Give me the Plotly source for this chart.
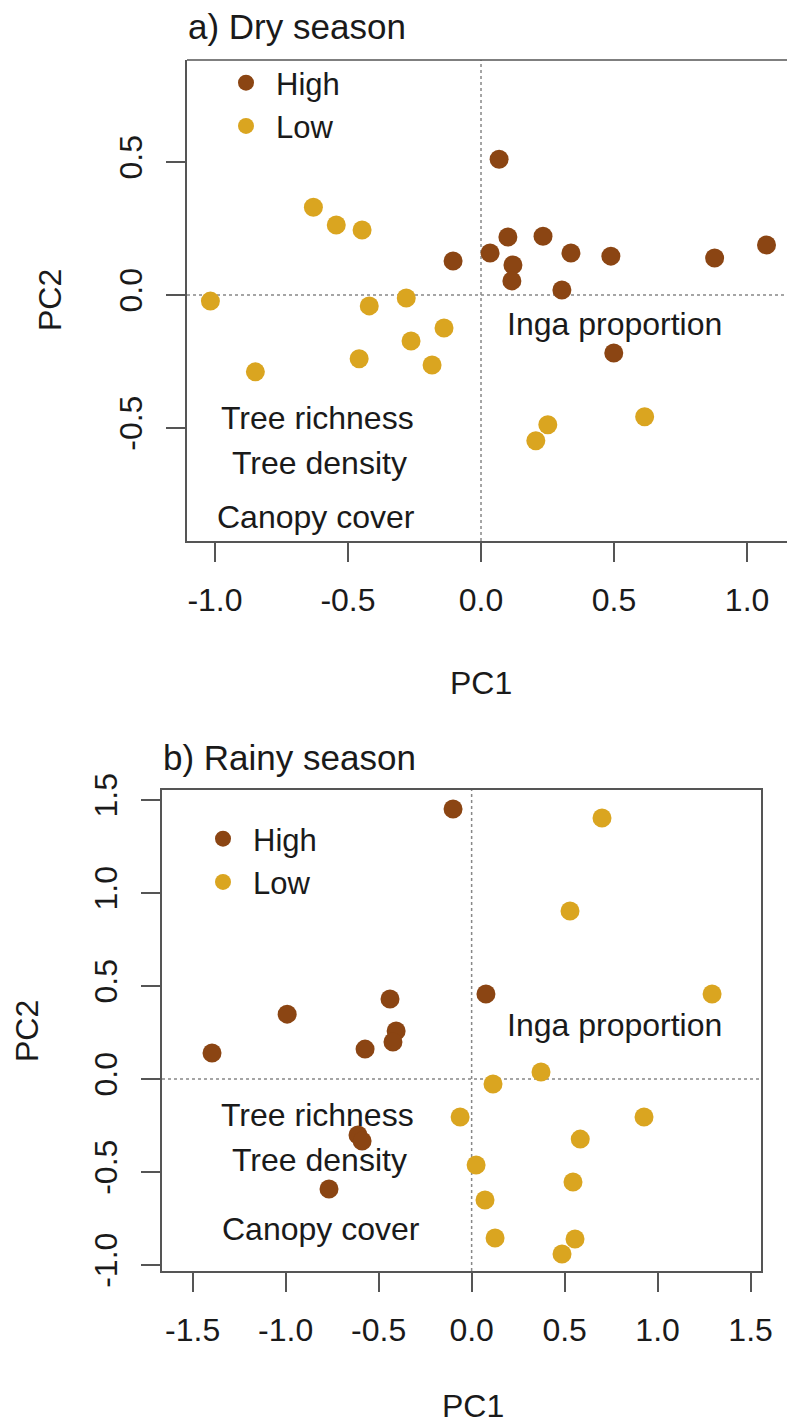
import plotly.graph_objects as go

# ---------------- data ----------------
# a) Dry season
dry_high_pc1 = [0.068, 0.101, 0.233, -0.105, 0.034, 0.120, 0.116, 0.338, 0.488, 0.878, 1.073, 0.304, 0.499]
dry_high_pc2 = [0.510, 0.218, 0.221, 0.128, 0.158, 0.113, 0.053, 0.158, 0.146, 0.139, 0.188, 0.019, -0.218]
dry_low_pc1 = [-0.630, -0.544, -0.447, -1.017, -0.420, -0.281, -0.139, -0.263, -0.458, -0.184, -0.848, 0.251, 0.206, 0.615]
dry_low_pc2 = [0.330, 0.263, 0.244, -0.023, -0.041, -0.011, -0.124, -0.173, -0.240, -0.263, -0.289, -0.488, -0.548, -0.458]

# b) Rainy season
rainy_high_pc1 = [-0.100, 0.077, -0.439, -0.406, -0.423, -0.573, -0.992, -1.396, -0.611, -0.589, -0.767]
rainy_high_pc2 = [1.452, 0.457, 0.430, 0.258, 0.199, 0.161, 0.349, 0.140, -0.301, -0.333, -0.591]
rainy_low_pc1 = [0.701, 0.529, 1.293, 0.373, 0.115, -0.062, 0.927, 0.584, 0.024, 0.545, 0.072, 0.126, 0.556, 0.486]
rainy_low_pc2 = [1.403, 0.903, 0.457, 0.038, -0.027, -0.204, -0.204, -0.323, -0.462, -0.554, -0.650, -0.855, -0.860, -0.941]

# variable labels (biplot positions)
var_labels = ["Inga proportion", "Tree richness", "Tree density", "Canopy cover"]
dry_var_pc1 = [0.502, -0.615, -0.608, -0.619]
dry_var_pc2 = [-0.109, -0.462, -0.630, -0.833]
rainy_var_pc1 = [0.766, -0.831, -0.820, -0.810]
rainy_var_pc2 = [0.290, -0.194, -0.435, -0.806]

group_names = ["High", "Low"]
tick_vals_dry_x = [-1.0, -0.5, 0.0, 0.5, 1.0]
tick_text_dry_x = ["-1.0", "-0.5", "0.0", "0.5", "1.0"]
tick_vals_dry_y = [-0.5, 0.0, 0.5]
tick_text_dry_y = ["-0.5", "0.0", "0.5"]
tick_vals_rainy_x = [-1.5, -1.0, -0.5, 0.0, 0.5, 1.0, 1.5]
tick_text_rainy_x = ["-1.5", "-1.0", "-0.5", "0.0", "0.5", "1.0", "1.5"]
tick_vals_rainy_y = [-1.0, -0.5, 0.0, 0.5, 1.0, 1.5]
tick_text_rainy_y = ["-1.0", "-0.5", "0.0", "0.5", "1.0", "1.5"]

# ---------------- style ----------------
W, H = 787, 1427
HIGH_COL = "#8B4513"
LOW_COL = "#DAA520"
FONT = "Liberation Sans, Arial, sans-serif"
TXT = "#1a1a1a"
LINE = "#555555"
FS = 32
LEG_FS = 31
MS = 19


def px_x(p):
    return p / W


def px_y(p):
    return 1 - p / H


fig = go.Figure()

fig.add_trace(go.Scatter(x=dry_high_pc1, y=dry_high_pc2, mode="markers", name=group_names[0],
                         marker=dict(color=HIGH_COL, size=MS), xaxis="x", yaxis="y", legend="legend"))
fig.add_trace(go.Scatter(x=dry_low_pc1, y=dry_low_pc2, mode="markers", name=group_names[1],
                         marker=dict(color=LOW_COL, size=MS), xaxis="x", yaxis="y", legend="legend"))
fig.add_trace(go.Scatter(x=rainy_high_pc1, y=rainy_high_pc2, mode="markers", name=group_names[0],
                         marker=dict(color=HIGH_COL, size=MS), xaxis="x2", yaxis="y2", legend="legend2"))
fig.add_trace(go.Scatter(x=rainy_low_pc1, y=rainy_low_pc2, mode="markers", name=group_names[1],
                         marker=dict(color=LOW_COL, size=MS), xaxis="x2", yaxis="y2", legend="legend2"))

axis_common = dict(showgrid=False, zeroline=False, showline=True, linecolor=LINE, linewidth=1.5,
                   ticks="outside", ticklen=19, tickwidth=1.5, tickcolor=LINE, automargin=False,
                   tickfont=dict(family=FONT, size=FS, color=TXT), tickmode="array",
                   ticklabelstandoff=11)

# panel pixel boxes
top_box = dict(l=187, r=787, t=60, b=541)
bot_box = dict(l=162, r=761, t=790, b=1271)

leg_common = dict(xanchor="left", yanchor="top", font=dict(family=FONT, size=LEG_FS, color=TXT),
                  bgcolor="rgba(0,0,0,0)", tracegroupgap=0, itemsizing="trace", itemwidth=50)

fig.update_layout(
    template="none",
    width=W, height=H,
    margin=dict(l=0, r=0, t=0, b=0, autoexpand=False),
    paper_bgcolor="white", plot_bgcolor="white",
    font=dict(family=FONT, size=FS, color=TXT),
    xaxis=dict(axis_common, domain=[px_x(top_box["l"]), px_x(top_box["r"])], range=[-1.105, 1.150],
               tickvals=tick_vals_dry_x, ticktext=tick_text_dry_x, anchor="y", mirror=False),
    yaxis=dict(axis_common, domain=[px_y(top_box["b"]), px_y(top_box["t"])], range=[-0.925, 0.8835],
               tickvals=tick_vals_dry_y, ticktext=tick_text_dry_y, anchor="x", tickangle=-90, mirror=False),
    xaxis2=dict(axis_common, domain=[px_x(bot_box["l"]), px_x(bot_box["r"])], range=[-1.665, 1.556],
                tickvals=tick_vals_rainy_x, ticktext=tick_text_rainy_x, anchor="y2", mirror=True),
    yaxis2=dict(axis_common, domain=[px_y(bot_box["b"]), px_y(bot_box["t"])], range=[-1.032, 1.554],
                tickvals=tick_vals_rainy_y, ticktext=tick_text_rainy_y, anchor="x2", tickangle=-90, mirror=True),
    legend=dict(leg_common, x=px_x(216), y=px_y(56)),
    legend2=dict(leg_common, x=px_x(193), y=px_y(812)),
    showlegend=True,
)

shapes = []
# top border for panel a (right side is cropped in the original)
shapes.append(dict(type="line", xref="x domain", yref="y domain", x0=0, x1=1, y0=1, y1=1,
                   line=dict(color=LINE, width=1.5)))
# dotted reference lines
for xa, ya in (("x", "y"), ("x2", "y2")):
    shapes.append(dict(type="line", xref=xa, yref=f"{ya} domain", x0=0, x1=0, y0=0, y1=1,
                       line=dict(color="#888888", width=1.5, dash="dot"), layer="below"))
    shapes.append(dict(type="line", xref=f"{xa} domain", yref=ya, x0=0, x1=1, y0=0, y1=0,
                       line=dict(color="#888888", width=1.5, dash="dot"), layer="below"))
fig.update_layout(shapes=shapes)

ann = []
for lab, vx, vy in zip(var_labels, dry_var_pc1, dry_var_pc2):
    ann.append(dict(text=lab, x=vx, y=vy, xref="x", yref="y", showarrow=False,
                    font=dict(family=FONT, size=FS, color=TXT), xanchor="center", yanchor="middle"))
for lab, vx, vy in zip(var_labels, rainy_var_pc1, rainy_var_pc2):
    ann.append(dict(text=lab, x=vx, y=vy, xref="x2", yref="y2", showarrow=False,
                    font=dict(family=FONT, size=FS, color=TXT), xanchor="center", yanchor="middle"))

# titles
ann.append(dict(text="a) Dry season", x=px_x(186), y=px_y(27), xref="paper", yref="paper",
                showarrow=False, xanchor="left", yanchor="middle",
                font=dict(family=FONT, size=35, color=TXT)))
ann.append(dict(text="b) Rainy season", x=px_x(161), y=px_y(757), xref="paper", yref="paper",
                showarrow=False, xanchor="left", yanchor="middle",
                font=dict(family=FONT, size=35, color=TXT)))
# axis titles
ann.append(dict(text="PC1", x=px_x(481), y=px_y(683), xref="paper", yref="paper", showarrow=False,
                xanchor="center", yanchor="middle", font=dict(family=FONT, size=FS, color=TXT)))
ann.append(dict(text="PC1", x=px_x(473), y=px_y(1406), xref="paper", yref="paper", showarrow=False,
                xanchor="center", yanchor="middle", font=dict(family=FONT, size=FS, color=TXT)))
ann.append(dict(text="PC2", x=px_x(50), y=px_y(300), xref="paper", yref="paper", showarrow=False,
                textangle=-90, xanchor="center", yanchor="middle", font=dict(family=FONT, size=FS, color=TXT)))
ann.append(dict(text="PC2", x=px_x(27), y=px_y(1031), xref="paper", yref="paper", showarrow=False,
                textangle=-90, xanchor="center", yanchor="middle", font=dict(family=FONT, size=FS, color=TXT)))
fig.update_layout(annotations=ann)

fig.write_html("out.html")
